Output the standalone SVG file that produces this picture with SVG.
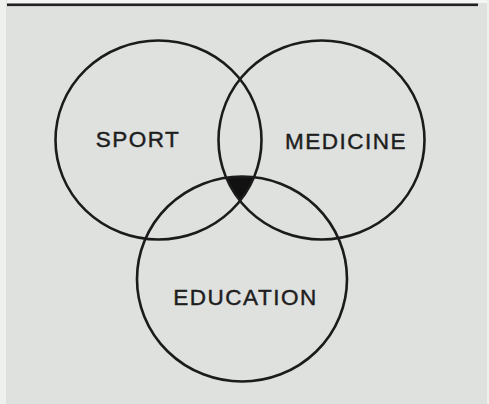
<svg xmlns="http://www.w3.org/2000/svg" width="489" height="404" viewBox="0 0 489 404">
<style>
.ring{fill:none;stroke:#1b1b1b;stroke-width:2.6}
.lbl{font-family:"Liberation Sans",Arial,sans-serif;font-size:22.5px;fill:#1e1e1e;stroke:#1e1e1e;stroke-width:0.45;text-anchor:middle;letter-spacing:1.5px}
</style>
<defs>
<clipPath id="cSport"><ellipse cx="158.5" cy="140" rx="103" ry="99.5"/></clipPath>
<clipPath id="cMed"><ellipse cx="321.5" cy="140" rx="103" ry="99.5"/></clipPath>
</defs>
<rect width="489" height="404" fill="#eef0ee"/>
<rect x="6" y="0" width="481" height="404" fill="#dee1de"/>
<rect x="7" y="0" width="480" height="3" fill="#f4f5f4"/>
<rect x="7" y="3.5" width="471" height="2.6" fill="#222"/>
<g id="intersection" clip-path="url(#cSport)">
<g clip-path="url(#cMed)">
<ellipse cx="242" cy="279" rx="105" ry="102.5" fill="#111"/>
</g>
</g>
<g id="sport">
<ellipse class="ring" cx="158.5" cy="140" rx="103" ry="99.5"/>
<text class="lbl" x="138" y="147">SPORT</text>
</g>
<g id="medicine">
<ellipse class="ring" cx="321.5" cy="140" rx="103" ry="99.5"/>
<text class="lbl" x="346" y="149">MEDICINE</text>
</g>
<g id="education">
<ellipse class="ring" cx="242" cy="279" rx="105" ry="102.5"/>
<text class="lbl" x="245.5" y="305">EDUCATION</text>
</g>
</svg>
